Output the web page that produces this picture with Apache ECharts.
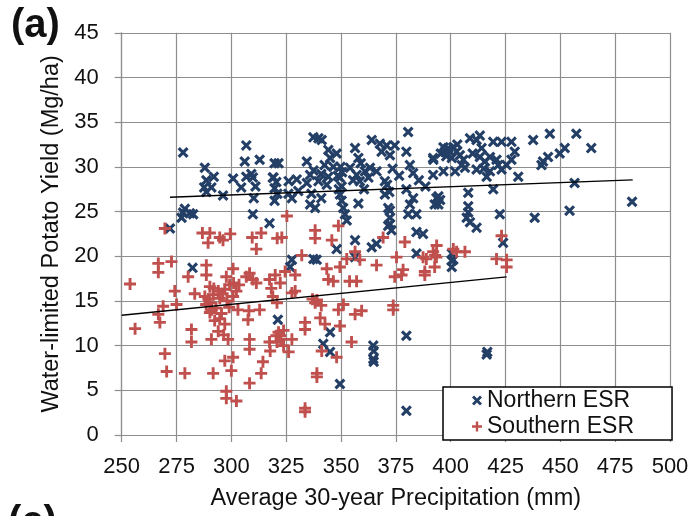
<!DOCTYPE html>
<html>
<head>
<meta charset="utf-8">
<script src="https://cdn.jsdelivr.net/npm/echarts@6/dist/echarts.min.js"></script>
<style>html,body{margin:0;padding:0;background:#fff}#c{width:693px;height:516px}</style>
</head>
<body>
<div id="c"></div>
<script>
var FONT = 'Liberation Sans, Arial, sans-serif';
var xTicks = [250, 500, 25];
var yTicks = [0, 45, 5];
var seriesNames = ['Northern ESR', 'Southern ESR'];

var northern = [
[278.0,31.6],[287.9,29.9],[292.0,28.9],[288.6,28.5],[287.6,27.7],[290.9,27.7],[288.6,27.2],[296.2,26.8],[300.8,28.7],[304.5,27.7],
[306.8,32.4],[306.1,30.6],[312.9,30.8],[306.8,28.9],[309.8,28.8],[309.1,29.2],[310.2,26.5],[309.8,24.7],[317.4,23.7],[318.9,28.8],
[319.7,30.4],[319.7,27.6],[319.7,26.2],[278.0,24.9],[281.1,24.8],[277.3,24.3],[282.6,24.7],[278.8,25.3],[272.0,23.1],[282.3,18.7],
[321.2,12.9],
[321.5,30.4],[319.2,28.8],[326.1,28.4],[327.6,26.5],[329.8,28.6],[334.4,30.6],[337.4,33.3],[341.2,33.0],[339.7,33.2],
[335.9,29.1],[334.4,28.2],[335.9,25.8],[338.2,25.4],[339.7,28.4],[344.2,28.9],[343.5,28.0],[344.2,31.9],[345.0,31.0],[348.0,31.5],
[349.5,28.8],[350.3,27.8],[349.5,26.9],[350.3,26.2],[351.8,24.7],[352.6,24.0],[356.4,32.1],[357.9,31.0],[354.1,29.9],[357.1,29.1],
[360.9,29.5],[358.6,28.4],[357.9,25.9],[364.0,33.0],[367.7,32.6],[370.8,32.4],[363.2,29.9],[366.2,29.5],[370.0,28.4],[368.5,31.7],
[372.3,31.3],[370.0,26.9],[371.5,25.4],[372.3,24.3],[372.3,23.6],[373.0,22.9],[374.5,32.4],[380.6,33.9],[379.8,31.7],[381.4,30.2],
[382.9,29.3],[379.8,27.5],[382.9,26.5],[381.4,25.8],[380.6,24.7],[384.4,24.7],[384.4,22.7],[387.4,22.5],[392.0,31.0],[392.0,29.1],
[393.5,26.5],[392.7,25.8],[356.4,21.8],[348.0,20.8],[364.0,21.0],[366.2,21.4],[338.9,19.6],[327.6,19.6],[326.8,18.8],[384.4,20.3],
[337.4,19.7],[356.4,19.9],[345.0,11.5],[341.9,10.2],[345.0,9.3],[364.7,10.0],[364.9,9.4],[364.7,8.5],[364.9,8.2],[379.8,11.1],
[349.5,5.7],[379.8,2.7],[372.3,25.1],[371.5,23.4],
[392.1,30.8],[396.7,29.5],[396.7,32.2],[398.9,32.1],[401.2,32.2],[399.7,31.7],[402.7,31.7],[397.4,31.7],[404.2,31.3],[405.8,30.8],
[405.0,30.2],[406.5,29.9],[408.8,33.2],[413.3,33.5],[411.8,33.0],[414.1,32.1],[413.3,31.1],[415.6,30.6],[417.9,31.1],[419.4,32.8],
[423.2,32.8],[420.9,30.8],[421.7,30.2],[423.2,29.7],[425.5,30.2],[427.7,32.8],[429.2,31.7],[427.7,30.8],[416.4,28.9],[417.9,29.5],
[411.8,29.7],[430.8,28.9],[437.6,33.0],[445.2,33.7],[442.1,30.6],[444.4,31.1],[441.4,30.2],[449.7,31.5],[452.0,32.1],[457.3,33.7],
[464.1,32.1],[456.5,28.2],[419.4,27.5],[408.0,27.1],[394.4,26.7],[394.4,25.8],[395.2,26.3],[408.0,25.6],[408.0,24.9],[407.3,24.3],
[408.8,23.8],[411.8,23.2],[422.4,24.7],[438.3,24.3],[454.2,25.1],[482.7,26.1],[423.9,21.5],[400.5,20.3],[400.5,19.5],[400.5,18.8],
[401.2,19.6],[416.4,9.0],[416.7,9.3],
[349.8,30.0],[350.5,29.4],[351.0,25.4],[349.0,27.5],[348.5,29.0],[337.5,29.6],[341.0,29.2],[342.5,30.2],[336.5,27.0],[341.0,26.5],
[355.5,28.5],[362.5,28.8],[360.5,27.5],[371.0,28.0],[372.0,27.2],[373.5,29.8],[398.0,31.2],[400.5,31.0],[403.0,32.5],[395.5,31.5],
[320.5,28.3],[321.0,27.0],[311.0,27.8],[330.5,27.3],[326.0,27.0],[346.5,30.0],[359.0,30.4],[376.5,29.0],[385.5,28.5],[388.5,27.8],
[402.0,29.5],[410.0,31.5],[415.0,29.8]
];

var southern = [
[269.7,23.1],[286.8,22.6],[290.2,22.6],[289.4,21.5],[294.7,22.1],[296.2,21.8],[299.5,22.5],[309.5,22.1],[313.6,22.6],[311.4,20.8],
[320.9,22.0],
[253.8,16.9],[256.1,11.9],[266.7,19.2],[266.7,18.2],[272.7,19.4],[274.2,16.1],[268.9,14.4],[266.7,13.5],[267.4,12.6],[275.0,14.6],
[269.7,9.1],[270.5,7.1],[278.8,6.9],[280.3,17.7],[288.6,19.0],[288.6,17.9],[283.3,15.8],[281.8,11.8],[281.8,10.4],[290.2,16.6],
[287.9,15.5],[291.7,15.7],[294.7,15.3],[290.2,14.8],[294.0,16.1],[290.2,13.7],[292.4,12.8],[294.7,13.0],[297.0,12.4],[290.9,10.7],
[298.5,10.7],[297.0,8.3],[300.8,8.7],[300.0,7.2],[291.7,6.9],[297.7,4.9],[302.3,3.8],[297.7,4.1],[300.8,18.6],[297.7,17.7],
[299.2,16.8],[302.3,16.1],[297.0,16.3],[300.8,15.5],[306.8,17.7],[309.8,17.4],[308.3,18.1],[311.4,17.0],[303.0,14.0],[308.0,13.9],
[312.9,14.0],[307.6,12.9],[308.3,10.7],[308.3,9.6],[314.4,8.2],[313.6,6.9],[308.3,5.8],[317.4,17.4],[318.2,16.4],[318.9,15.5],
[317.4,10.4],[320.5,11.1],
[325.3,24.5],[323.0,22.1],[338.2,22.9],[338.2,22.0],[348.8,23.4],[345.8,21.8],[332.1,20.1],[369.2,22.1],[379.1,21.6],[356.4,20.5],
[352.6,19.7],[343.5,18.6],[349.5,18.8],[358.6,19.6],[366.2,19.0],[375.3,19.9],[387.4,19.9],[392.0,20.5],[392.7,18.8],[378.3,18.5],
[388.2,18.3],[324.5,18.3],
[320.0,17.9],[322.3,17.0],[329.1,17.9],[329.1,16.1],[327.6,15.9],[320.8,14.8],[338.2,14.8],[339.0,15.1],[344.2,17.4],[346.5,17.2],
[353.9,17.2],[357.1,17.2],[351.1,14.6],[348.8,14.0],[356.4,13.5],[359.4,13.9],[373.8,14.0],[373.8,14.5],[333.6,12.6],[333.6,11.8],
[340.5,13.1],[342.7,12.4],[349.5,12.2],[323.8,11.7],[322.3,11.1],[320.8,10.4],[323.8,10.0],[327.6,10.7],[326.1,9.3],[317.7,9.4],
[341.2,9.4],[354.8,10.4],[348.0,8.7],[339.0,6.9],[339.0,6.5],[333.6,3.0],[333.6,2.6],[377.6,17.9],[374.5,17.7],[388.2,17.9],
[388.9,19.7],[393.5,19.9],
[393.6,21.2],[392.9,20.1],[401.2,20.8],[402.7,20.5],[406.5,20.5],[423.2,22.3],[420.9,19.7],[425.5,19.6],[425.5,18.8],
[292.0,16.4],[296.0,15.8],[298.0,15.0],[293.0,14.2],[295.5,13.6],[299.0,14.3],[301.0,17.0],[303.5,16.8],[321.5,11.5],[322.5,10.7],
[289.5,15.2],[291.0,14.0],[288.5,14.6],[341.0,14.5],[337.0,15.2],[294.0,11.6],[296.5,11.2]
];

var northTrend = [[272, 26.6], [483, 28.55]];
var southTrend = [[250, 13.4], [425.5, 17.7]];

var X_SYM = 'path://M0,2L2,0L5,3L8,0L10,2L7,5L10,8L8,10L5,7L2,10L0,8L3,5Z';
var P_SYM = 'path://M3.8,0H6.2V3.8H10V6.2H6.2V10H3.8V6.2H0V3.8H3.8Z';
var BLUE = '#243f66';
var RED = '#c0504d';
var GRID = '#8e8e8e';

var chart = echarts.init(document.getElementById('c'), null, {renderer: 'canvas'});
chart.setOption({
  animation: false,
  backgroundColor: '#fff',
  textStyle: {fontFamily: FONT},
  grid: {left: 121.7, right: 23, top: 32.8, bottom: 75.5, containLabel: false},
  xAxis: {
    type: 'value', min: xTicks[0], max: xTicks[1], interval: xTicks[2],
    name: 'Average 30-year Precipitation (mm)', nameLocation: 'middle', nameGap: 52,
    nameTextStyle: {fontSize: 23.5, color: '#111', fontFamily: FONT},
    axisLine: {show: true, lineStyle: {color: GRID, width: 1.2}},
    axisTick: {show: true, length: 7, lineStyle: {color: GRID, width: 1.2}},
    axisLabel: {fontSize: 22, color: '#111', margin: 21, fontFamily: FONT},
    splitLine: {show: true, lineStyle: {color: GRID, width: 1.2}}
  },
  yAxis: {
    type: 'value', min: yTicks[0], max: yTicks[1], interval: yTicks[2],
    name: 'Water-limited Potato Yield (Mg/ha)', nameLocation: 'middle', nameGap: 50, nameRotate: 90,
    nameTextStyle: {fontSize: 23.5, color: '#111', fontFamily: FONT},
    axisLine: {show: true, lineStyle: {color: GRID, width: 1.2}},
    axisTick: {show: true, length: 7, lineStyle: {color: GRID, width: 1.2}},
    axisLabel: {fontSize: 22, color: '#111', margin: 23, fontFamily: FONT},
    splitLine: {show: true, lineStyle: {color: GRID, width: 1.2}}
  },
  legend: {
    data: seriesNames, orient: 'vertical', left: 443, top: 387,
    padding: [2, 38, 2, 29], itemGap: 3, itemWidth: 10, itemHeight: 10,
    backgroundColor: '#fff', borderColor: '#000', borderWidth: 1.5, borderRadius: 0,
    textStyle: {fontSize: 23, color: '#111', fontFamily: FONT}
  },
  graphic: [
    {type: 'text', left: 11, top: 6, style: {text: '(a)', fontSize: 40, fontWeight: 'bold', fill: '#111', fontFamily: FONT}},
    {type: 'text', left: 8, top: 503, style: {text: '(c)', fontSize: 40, fontWeight: 'bold', fill: '#111', fontFamily: FONT}}
  ],
  series: [
    {name: seriesNames[0], type: 'scatter', data: northern, symbol: X_SYM, symbolSize: 11, itemStyle: {color: BLUE, opacity: 1}, z: 2},
    {name: seriesNames[1], type: 'scatter', data: southern, symbol: P_SYM, symbolSize: 12, itemStyle: {color: RED, opacity: 1}, z: 3},
    {name: 'nt', type: 'line', data: northTrend, showSymbol: false, symbol: 'none', lineStyle: {color: '#000', width: 1.3}, z: 5, silent: true},
    {name: 'st', type: 'line', data: southTrend, showSymbol: false, symbol: 'none', lineStyle: {color: '#000', width: 1.3}, z: 5, silent: true}
  ]
});
</script>
</body>
</html>
